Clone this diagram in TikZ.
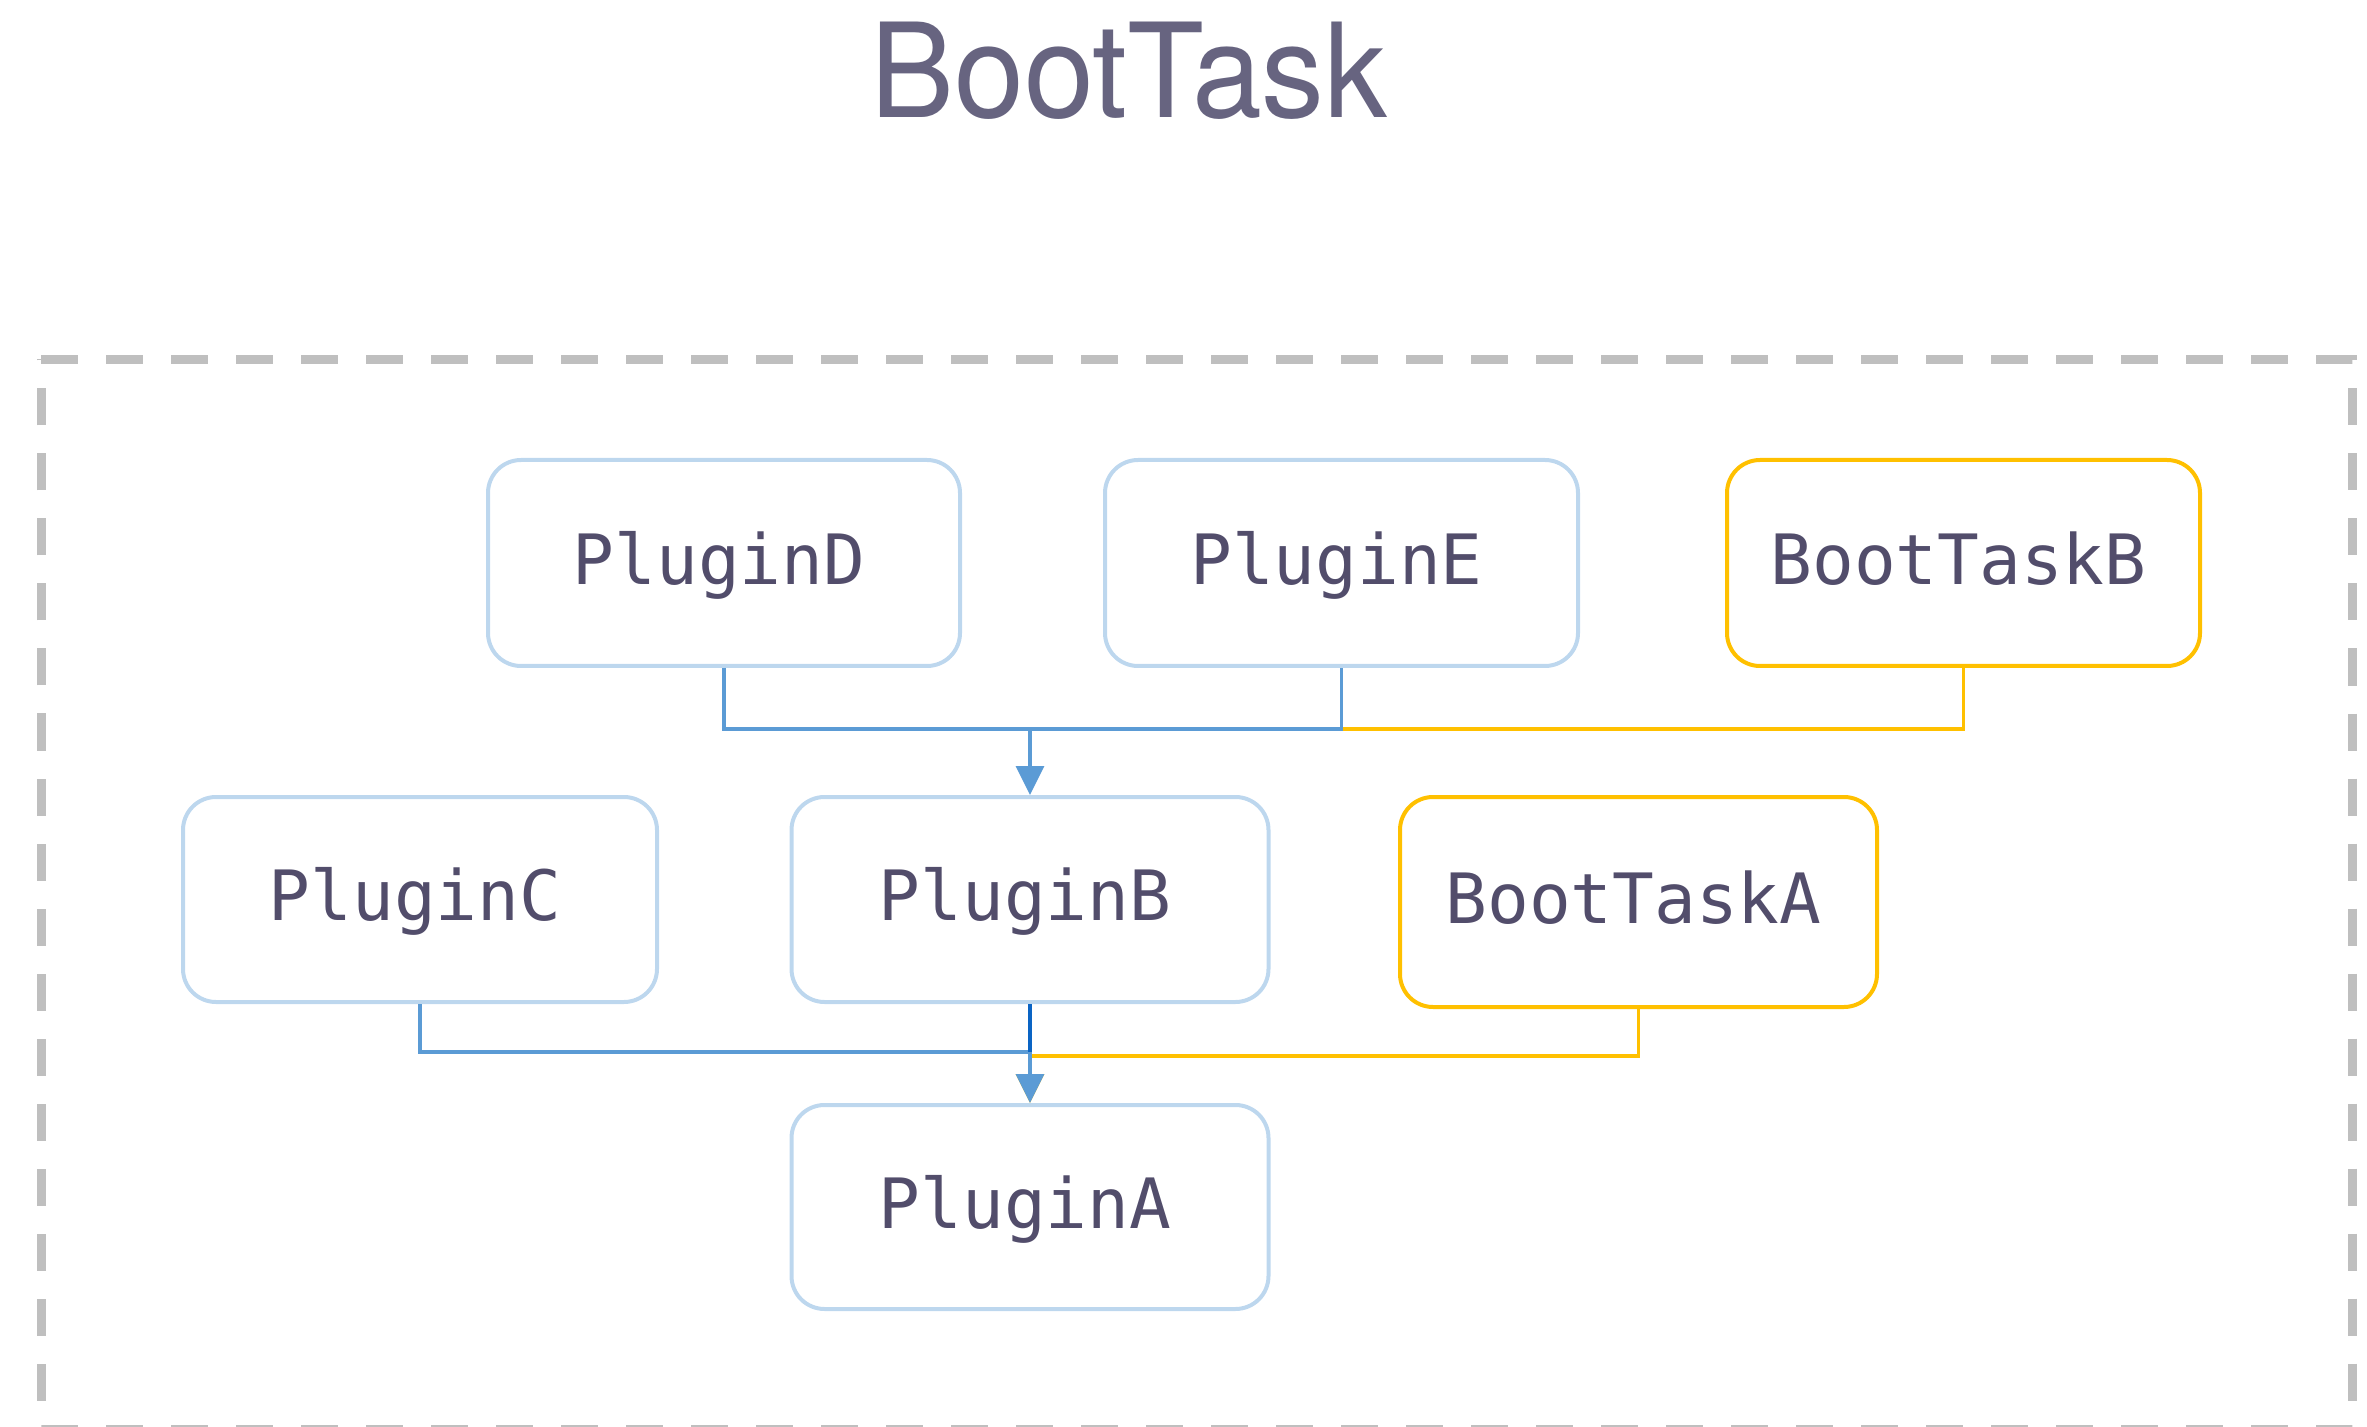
\documentclass[tikz,border=0pt]{standalone}
\usepackage{fontspec}
\usepackage{graphicx}
\usetikzlibrary{arrows.meta}
\newfontfamily\monofont{DejaVu Sans Mono}
\newfontfamily\titlefont{TeX Gyre Heros}

\definecolor{boxblue}{HTML}{BDD7EE}
\definecolor{wireblue}{HTML}{5B9BD5}
\definecolor{wiredark}{HTML}{0A64C4}
\definecolor{taskgold}{HTML}{FFC000}
\definecolor{labelink}{HTML}{524D6B}
\definecolor{titleink}{HTML}{676480}
\definecolor{framegray}{HTML}{BFBFBF}

\tikzset{
  plugbox/.style={draw=boxblue, line width=2pt, rounded corners=16.5pt,
    minimum width=237pt, minimum height=103pt, inner sep=0pt,
    text=labelink, font=\monofont\fontsize{34.7pt}{40pt}\selectfont,
    text height=26pt, text depth=4.9pt,
    execute at end node={\hspace*{5pt}}},
  taskbox/.style={plugbox, draw=taskgold},
  wire/.style={draw=wireblue, line width=1.7pt},
  darkwire/.style={draw=wiredark, line width=1.7pt},
  taskwire/.style={draw=taskgold, line width=1.7pt},
  tip/.style={-{Triangle[length=14.5pt, width=14pt]}},
}

\begin{document}
\begin{tikzpicture}[x={(0.5pt,0)}, y={(0,-0.5pt)}]
  \useasboundingbox (0,0) rectangle (2367,1427);

  % title
  \node[anchor=base, text=titleink, inner sep=0pt,
        font=\titlefont\fontsize{65.5pt}{72pt}\selectfont]
    (title) at (1129,118) {\scalebox{0.96}[1]{BootTask}};

  % dashed group frame
  \draw[framegray, line width=4.5pt, dash pattern=on 18.5pt off 14pt]
    (41,359.5) -- (2352,359.5) -- (2352,1429) -- (41,1429) -- cycle;

  % upper row
  \node[plugbox, minimum width=236pt] (pd) at (724,563) {PluginD};
  \node[plugbox, minimum width=236.5pt] (pe) at (1341.5,563) {PluginE};
  \node[taskbox, minimum width=236.5pt] (tb) at (1963.5,563) {BootTaskB};

  % middle row
  \node[plugbox, minimum width=237pt, minimum height=102.5pt] (pc) at (420,899.5) {PluginC};
  \node[plugbox, minimum width=238.5pt, minimum height=102.5pt] (pb) at (1030,899.5) {PluginB};
  \node[taskbox, minimum width=238.5pt, minimum height=105pt] (ta) at (1638.5,902) {BootTaskA};

  % bottom row
  \node[plugbox, minimum width=238.5pt, minimum height=102pt] (pa) at (1030,1207) {PluginA};

  % junction points of the two buses
  \coordinate (jtop) at (1030,729);
  \coordinate (jlow) at (1030,1052);
  \coordinate (jlowy) at (1030,1056);

  % upper bus into PluginB
  \draw[taskwire] (tb.south) |- (pe.south |- jtop);
  \draw[wire] (pd.south) |- (jtop) -| (pe.south);
  \draw[wire, tip] (jtop) -- (pb.north);

  % lower bus into PluginA
  \draw[taskwire, tip] (ta.south) |- (jlowy) -- (pa.north);
  \draw[wire] (pc.south) |- (jlow);
  \draw[wire, tip] (jlow) -- (pa.north);
  \draw[darkwire] (pb.south) -- (jlow);
\end{tikzpicture}
\end{document}
